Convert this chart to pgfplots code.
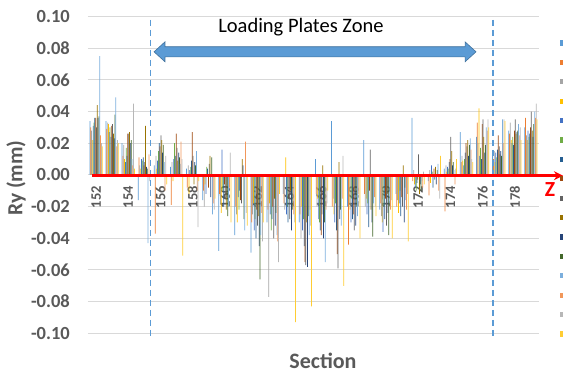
\documentclass[border=0pt]{standalone}
\usepackage{pgfplots}
\pgfplotsset{compat=1.18}
\usepackage{pgfplotstable}
\usepackage{fontspec}
\setmainfont{Carlito}
\usetikzlibrary{arrows.meta}
\definecolor{c1}{HTML}{5B9BD5}
\definecolor{c2}{HTML}{ED7D31}
\definecolor{c3}{HTML}{A5A5A5}
\definecolor{c4}{HTML}{FFC000}
\definecolor{c5}{HTML}{4472C4}
\definecolor{c6}{HTML}{70AD47}
\definecolor{c7}{HTML}{255E91}
\definecolor{c8}{HTML}{9E480E}
\definecolor{c9}{HTML}{636363}
\definecolor{c10}{HTML}{997300}
\definecolor{c11}{HTML}{264478}
\definecolor{c12}{HTML}{43682B}
\definecolor{c13}{HTML}{7CAFDD}
\definecolor{c14}{HTML}{F1975A}
\definecolor{c15}{HTML}{B7B7B7}
\definecolor{c16}{HTML}{FFCD33}
\definecolor{tickgray}{HTML}{595959}
\definecolor{gridgray}{HTML}{D9D9D9}
\definecolor{arrowedge}{HTML}{41719C}

\pgfplotstableread{
x s1 s2 s3 s4 s5 s6 s7 s8 s9 s10 s11 s12 s13 s14 s15 s16
152 0.034 0.030 0.028 0.022 0.031 0.033 0.036 0.036 0.030 0.044 0.036 0.037 0.075 0.025 0.020 0.018
153 0.034 0.029 0.033 0.032 0.027 0.030 0.024 0.031 0.032 0.026 0.023 0.038 0.049 0.018 0.022 0.020
154 0.020 0.012 0.019 0.010 0.008 0.017 0.012 0.026 0.026 0.027 0.020 0.022 0.010 0.006 0.045 0.004
155 -0.016 0.011 0.006 0.004 0.010 0.009 0.011 0.006 0.008 0.031 0.005 0.004 -0.043 0.013 -0.004 0.002
156 0.006 -0.037 0.012 0.004 0.009 0.015 0.020 0.018 0.025 0.022 0.014 0.019 0.008 -0.010 0.012 -0.006
157 0.005 -0.019 0.008 -0.004 0.010 0.020 0.012 0.026 0.017 0.009 0.014 0.011 0.007 0.021 0.010 -0.051
158 0.004 -0.008 0.006 -0.012 0.003 0.005 0.009 0.027 0.012 -0.006 0.008 0.006 0.015 -0.010 -0.033 -0.004
159 -0.016 -0.010 -0.020 -0.006 -0.012 0.005 0.004 -0.008 0.007 0.012 -0.014 0.011 -0.025 -0.018 -0.022 -0.015
160 -0.048 -0.012 -0.018 -0.024 0.016 -0.010 -0.020 -0.006 -0.015 -0.022 -0.014 -0.026 -0.020 -0.008 0.014 -0.030
161 -0.038 -0.020 -0.025 -0.030 -0.014 -0.022 -0.010 -0.016 -0.018 0.010 0.006 -0.028 -0.035 0.021 -0.024 -0.032
162 -0.049 -0.030 -0.025 -0.018 -0.035 -0.028 -0.040 -0.022 -0.032 -0.026 -0.045 -0.066 -0.038 -0.024 -0.042 -0.030
163 -0.030 -0.022 -0.077 -0.018 -0.025 -0.035 -0.028 -0.020 -0.040 -0.015 -0.032 -0.024 -0.038 -0.042 -0.055 -0.012
164 -0.012 -0.018 -0.022 0.011 -0.025 -0.020 -0.030 -0.015 -0.028 -0.010 -0.035 -0.022 -0.018 -0.025 -0.030 -0.093
165 -0.030 -0.025 -0.040 -0.020 -0.035 -0.028 -0.045 -0.055 -0.057 -0.030 -0.058 -0.026 -0.038 -0.022 -0.032 -0.083
166 0.010 -0.012 -0.020 -0.015 -0.028 -0.030 -0.035 -0.038 -0.025 0.006 -0.040 -0.030 -0.055 -0.022 -0.018 -0.010
167 0.034 -0.020 -0.015 -0.025 -0.030 -0.018 -0.035 -0.050 -0.059 0.008 -0.028 -0.022 -0.032 -0.015 0.012 -0.070
168 -0.020 -0.044 -0.018 -0.022 -0.030 -0.015 -0.028 -0.025 -0.035 -0.010 -0.032 -0.020 -0.026 -0.012 -0.018 -0.040
169 0.022 -0.012 -0.020 -0.015 -0.025 -0.018 -0.033 -0.010 0.016 -0.022 -0.030 -0.039 -0.018 -0.014 -0.020 -0.026
170 -0.022 -0.018 -0.026 -0.030 -0.036 -0.020 -0.028 -0.015 -0.032 -0.012 -0.024 -0.038 -0.018 -0.022 -0.016 -0.040
171 -0.012 -0.020 -0.016 -0.024 -0.018 -0.010 -0.026 -0.014 -0.020 0.006 -0.030 -0.008 -0.016 -0.022 -0.012 -0.042
172 0.036 -0.004 0.003 -0.006 -0.008 -0.010 -0.005 -0.003 0.013 -0.012 -0.006 -0.010 -0.004 -0.008 0.002 -0.006
173 -0.004 -0.013 0.003 -0.005 0.006 0.002 -0.008 0.004 -0.003 0.005 -0.006 0.003 0.007 -0.010 -0.015 0.012
174 0.004 -0.023 0.006 0.002 0.005 0.004 0.008 0.010 0.024 0.015 0.006 0.008 0.003 -0.006 0.004 0.010
175 0.027 0.008 0.012 0.009 0.006 0.010 0.014 0.020 0.018 0.022 0.012 0.019 0.023 0.016 0.010 0.008
176 0.024 0.033 0.020 0.042 0.012 0.017 0.010 0.032 0.035 0.024 0.014 0.019 0.030 0.028 0.035 0.030
177 0.012 0.010 0.015 0.008 0.014 0.011 0.016 0.025 0.018 0.013 0.015 0.012 0.035 0.020 0.035 0.034
178 0.028 0.026 0.033 0.022 0.020 0.024 0.019 0.028 0.035 0.026 0.027 0.028 0.032 0.025 0.030 0.022
179 0.030 0.036 0.025 0.022 0.028 0.024 0.026 0.030 0.040 0.028 0.024 0.032 0.040 0.036 0.045 0.035
}\datatable

\begin{document}
\begin{tikzpicture}
\useasboundingbox (0,0) rectangle (563pt,374pt);
\begin{axis}[
  at={(88pt,40.7pt)}, anchor=south west,
  scale only axis, width=451pt, height=316.8pt,
  xmin=151.5, xmax=179.5, ymin=-0.1, ymax=0.1,
  axis x line=middle, axis y line=left,
  axis line style={draw=none},
  hide obscured x ticks=false, hide obscured y ticks=false,
  major tick length=0pt,
  xtick={152,154,156,158,160,162,164,166,168,170,172,174,176,178},
  xticklabels={152,154,156,158,160,162,164,166,168,170,172,174,176,178},
  ytick={-0.1,-0.08,-0.06,-0.04,-0.02,0,0.02,0.04,0.06,0.08,0.1},
  yticklabels={-0.10,-0.08,-0.06,-0.04,-0.02,0.00,0.02,0.04,0.06,0.08,0.10},
  ymajorgrids, grid style={gridgray, line width=0.9pt},
  xticklabel style={font=\bfseries\fontsize{14.5}{14.5}\selectfont, text=tickgray, yshift=-11pt, rotate=90, anchor=east, inner sep=0pt},
  yticklabel style={font=\bfseries\fontsize{18.5}{18.5}\selectfont, text=tickgray, anchor=east, inner sep=0pt, xshift=-18pt},
  ylabel={Ry (mm)},
  ylabel style={font=\bfseries\fontsize{21.5}{21.5}\selectfont, text=tickgray, at={(axis description cs:-0.1596,0.49)}, anchor=center, inner sep=0pt, rotate=0},
  xlabel={Section},
  xlabel style={font=\bfseries\fontsize{22}{22}\selectfont, text=tickgray, at={(axis description cs:0.521,-0.0859)}, anchor=center, inner sep=0pt},
  ybar=0.07pt, bar width=0.75pt,
  clip=false,
  legend style={at={(axis description cs:1.0475,0.947)}, anchor=north west, draw=none, fill=none, inner sep=0pt, outer sep=0pt, row sep=0pt,
    nodes={inner sep=0pt, minimum height=19.4pt}},
  legend image code/.code={\fill[#1] (0pt,-2.6pt) rectangle (5.2pt,2.6pt);},
]
\addplot[fill=c1, draw=none] table[x=x, y=s1] {\datatable}; \addlegendentry{\strut}
\addplot[fill=c2, draw=none] table[x=x, y=s2] {\datatable}; \addlegendentry{\strut}
\addplot[fill=c3, draw=none] table[x=x, y=s3] {\datatable}; \addlegendentry{\strut}
\addplot[fill=c4, draw=none] table[x=x, y=s4] {\datatable}; \addlegendentry{\strut}
\addplot[fill=c5, draw=none] table[x=x, y=s5] {\datatable}; \addlegendentry{\strut}
\addplot[fill=c6, draw=none] table[x=x, y=s6] {\datatable}; \addlegendentry{\strut}
\addplot[fill=c7, draw=none] table[x=x, y=s7] {\datatable}; \addlegendentry{\strut}
\addplot[fill=c8, draw=none] table[x=x, y=s8] {\datatable}; \addlegendentry{\strut}
\addplot[fill=c9, draw=none] table[x=x, y=s9] {\datatable}; \addlegendentry{\strut}
\addplot[fill=c10, draw=none] table[x=x, y=s10] {\datatable}; \addlegendentry{\strut}
\addplot[fill=c11, draw=none] table[x=x, y=s11] {\datatable}; \addlegendentry{\strut}
\addplot[fill=c12, draw=none] table[x=x, y=s12] {\datatable}; \addlegendentry{\strut}
\addplot[fill=c13, draw=none] table[x=x, y=s13] {\datatable}; \addlegendentry{\strut}
\addplot[fill=c14, draw=none] table[x=x, y=s14] {\datatable}; \addlegendentry{\strut}
\addplot[fill=c15, draw=none] table[x=x, y=s15] {\datatable}; \addlegendentry{\strut}
\addplot[fill=c16, draw=none] table[x=x, y=s16] {\datatable}; \addlegendentry{\strut}
% dashed zone boundaries
\draw[c1, line width=1.5pt, dash pattern=on 6pt off 4pt] (axis cs:155.39,0.0978) -- (axis cs:155.39,-0.103);
\draw[c1, line width=1.5pt, dash pattern=on 6pt off 4pt] (axis cs:176.63,0.0978) -- (axis cs:176.63,-0.103);
% double-headed block arrow
\filldraw[fill=c1, draw=arrowedge, line width=0.6pt]
  (axis cs:155.60,0.0777) -- (axis cs:156.28,0.0840) -- (axis cs:156.28,0.0809)
  -- (axis cs:174.91,0.0809) -- (axis cs:174.91,0.0840) -- (axis cs:175.59,0.0777)
  -- (axis cs:174.91,0.0714) -- (axis cs:174.91,0.0745) -- (axis cs:156.28,0.0745)
  -- (axis cs:156.28,0.0714) -- cycle;
\node[anchor=base, font=\fontsize{20.5}{20.5}\selectfont, text=black] at (axis cs:164.72,0.0898) {Loading Plates Zone};
% red Z axis
\draw[red, line width=2.5pt, -{Stealth[length=9pt,width=9pt]}] (axis cs:151.73,-0.0005) -- (axis cs:180.99,-0.0005);
\node[anchor=base, font=\bfseries\fontsize{21.5}{21.5}\selectfont, text=red] at (axis cs:180.18,-0.0139) {Z};
\end{axis}
\end{tikzpicture}
\end{document}
